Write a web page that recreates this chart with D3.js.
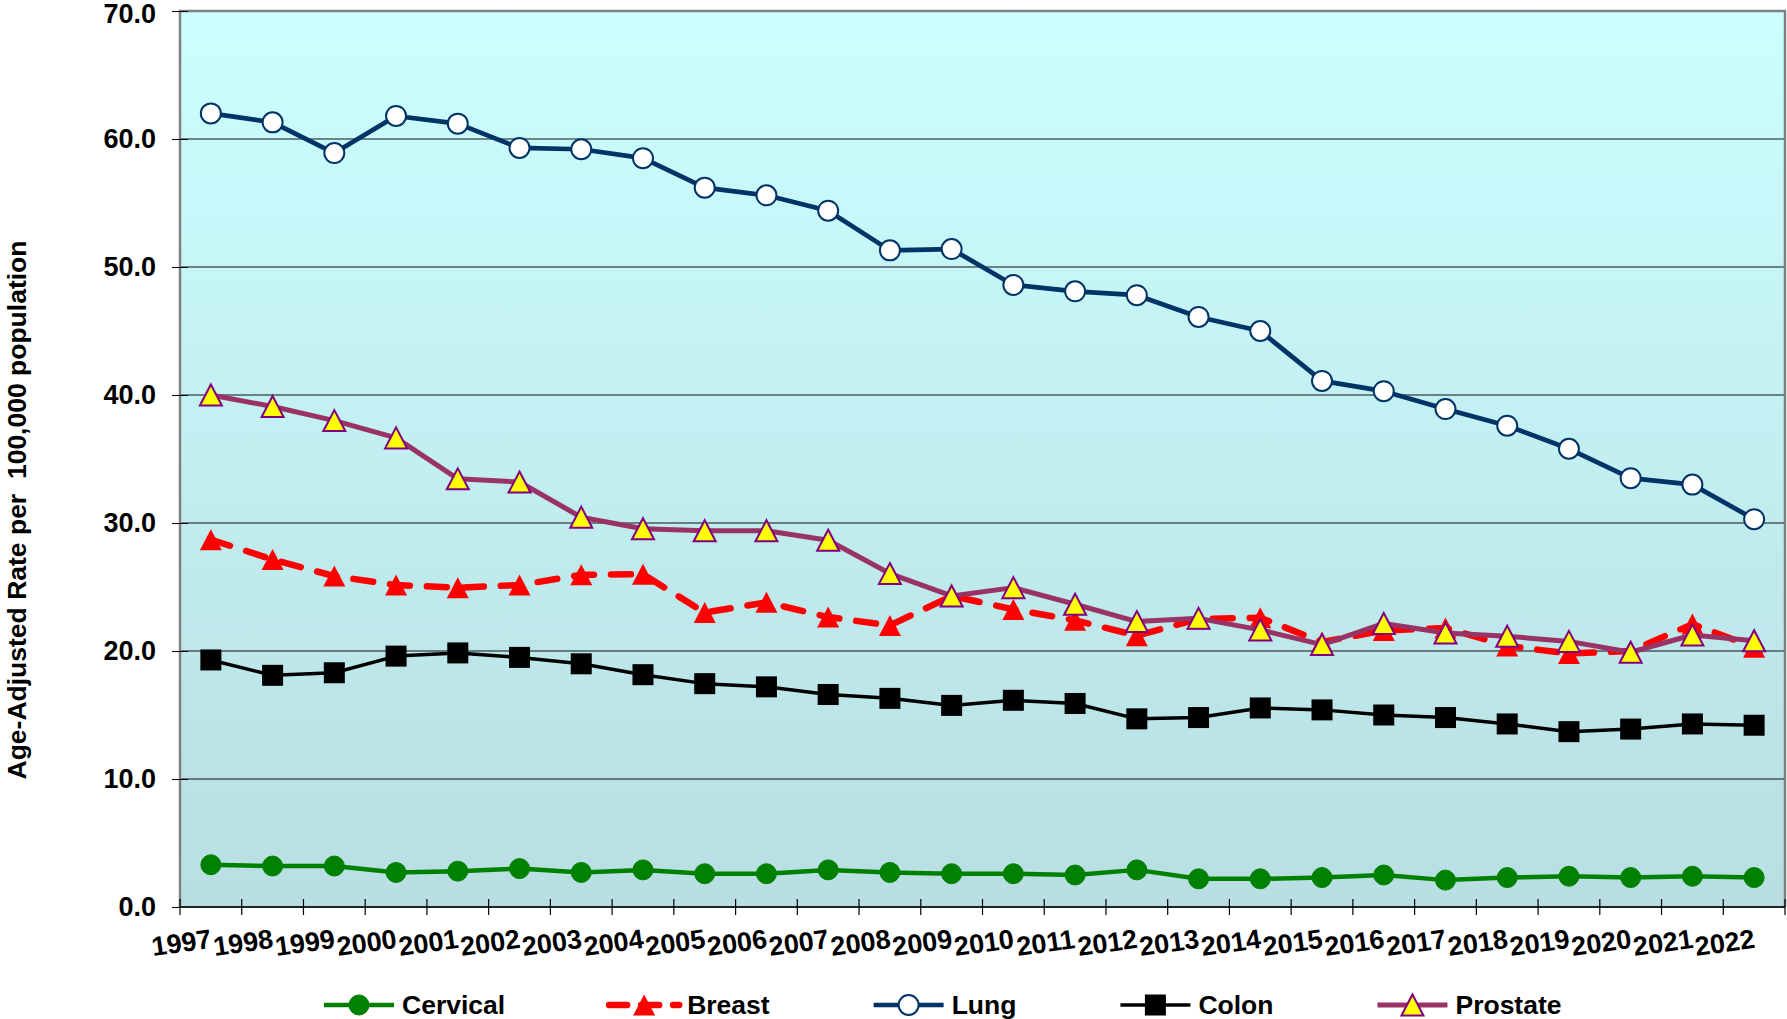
<!DOCTYPE html>
<html>
<head>
<meta charset="utf-8">
<script src="https://cdn.jsdelivr.net/npm/d3@7"></script>
<style>
  body { margin: 0; background: #fff; }
  svg { display: block; font-family: Arial, "Liberation Sans", sans-serif; }
</style>
</head>
<body>
<svg id="chart" width="1787" height="1019"></svg>
<script>
// values
const years = ["1997", "1998", "1999", "2000", "2001", "2002", "2003", "2004", "2005", "2006", "2007", "2008", "2009",
               "2010", "2011", "2012", "2013", "2014", "2015", "2016", "2017", "2018", "2019", "2020", "2021", "2022"];
const cervical = [3.3, 3.2, 3.2, 2.7, 2.8, 3.0, 2.7, 2.9, 2.6, 2.6, 2.9, 2.7, 2.6, 2.6, 2.5, 2.9, 2.2, 2.2, 2.3, 2.5, 2.1, 2.3, 2.4, 2.3, 2.4, 2.3];
const breast = [28.7, 27.15, 25.85, 25.15, 24.95, 25.15, 25.95, 26.0, 23.0, 23.8, 22.65, 22.0, 24.3, 23.25, 22.4, 21.2, 22.5, 22.6, 20.7, 21.6, 21.8, 20.4, 19.8, 20.0, 22.1, 20.3];
const lung = [62.0, 61.3, 58.9, 61.8, 61.2, 59.3, 59.2, 58.5, 56.2, 55.6, 54.4, 51.3, 51.4, 48.6, 48.1, 47.8, 46.1, 45.0, 41.1, 40.3, 38.9, 37.6, 35.8, 33.5, 33.0, 30.3];
const colon = [19.3, 18.1, 18.3, 19.6, 19.85, 19.5, 19.0, 18.15, 17.45, 17.2, 16.6, 16.3, 15.75, 16.15, 15.9, 14.7, 14.8, 15.55, 15.4, 15.0, 14.8, 14.3, 13.7, 13.9, 14.3, 14.2];
const prostate = [40.0, 39.1, 38.0, 36.65, 33.45, 33.2, 30.45, 29.55, 29.4, 29.4, 28.65, 26.05, 24.3, 24.95, 23.65, 22.3, 22.55, 21.65, 20.5, 22.15, 21.4, 21.15, 20.75, 19.9, 21.25, 20.8];
const seriesNames = ["Cervical", "Breast", "Lung", "Colon", "Prostate"];
const yTicks = [0, 10, 20, 30, 40, 50, 60, 70];
const yTitle = "Age-Adjusted Rate per  100,000 population";

const series = [cervical, breast, lung, colon, prostate].map((values, i) => ({ name: seriesNames[i], values }));

const styles = {
    Cervical: { line: "#008000", width: 4.5, dash: null, marker: "circle", fill: "#008000", stroke: "#008000", sw: 1 },
    Breast:   { line: "#ff0000", width: 6.5, dash: "20,17", marker: "triangle", fill: "#ff0000", stroke: "#ff0000", sw: 0 },
    Lung:     { line: "#003366", width: 4.7, dash: null, marker: "circle", fill: "#ffffff", stroke: "#003366", sw: 2 },
    Colon:    { line: "#000000", width: 3.5, dash: null, marker: "square", fill: "#000000", stroke: "#000000", sw: 0 },
    Prostate: { line: "#993366", width: 5, dash: null, marker: "triangle", fill: "#ffff00", stroke: "#800080", sw: 2 }
};

const svg = d3.select("#chart");
const plotLeft = 180, plotRight = 1785, plotTop = 11, plotBottom = 907;

const x = d3.scaleBand().domain(years).range([plotLeft, plotRight]).padding(0);
const y = d3.scaleLinear().domain([0, 70]).range([plotBottom, plotTop]);
const cx = d => x(d) + x.bandwidth() / 2;

// background gradient
const grad = svg.append("defs").append("linearGradient")
    .attr("id", "bg").attr("x1", 0).attr("y1", 0).attr("x2", 0).attr("y2", 1);
grad.append("stop").attr("offset", "0%").attr("stop-color", "#ccffff");
grad.append("stop").attr("offset", "100%").attr("stop-color", "#b8dee2");

svg.append("rect")
    .attr("x", plotLeft).attr("y", plotTop)
    .attr("width", plotRight - plotLeft).attr("height", plotBottom - plotTop)
    .attr("fill", "url(#bg)");

// gridlines
svg.append("g")
    .selectAll("line")
    .data(yTicks.filter(d => d > 0 && d < 70))
    .join("line")
    .attr("x1", plotLeft).attr("x2", plotRight)
    .attr("y1", d => y(d)).attr("y2", d => y(d))
    .attr("stroke", "#111").attr("stroke-width", 1);

// plot border
svg.append("path")
    .attr("d", `M${plotLeft},${plotBottom}V${plotTop}H${plotRight}V${plotBottom}`)
    .attr("fill", "none").attr("stroke", "#808080").attr("stroke-width", 2.5);

// y axis
const yAxis = svg.append("g")
    .attr("transform", `translate(${plotLeft},0)`)
    .call(d3.axisLeft(y).tickValues(yTicks).tickFormat(d3.format(".1f")).tickSize(8).tickPadding(16));
yAxis.select(".domain").remove();
yAxis.selectAll(".tick line").attr("x1", 8).attr("stroke", "#000");
yAxis.selectAll(".tick text")
    .attr("font-size", 27).attr("font-weight", "bold")
    .attr("font-family", "Arial, 'Liberation Sans', sans-serif").attr("fill", "#000");
yAxis.selectAll(".tick text").filter(d => d === 70).attr("dy", "0.42em");

// x axis
svg.append("line")
    .attr("x1", plotLeft).attr("x2", plotRight)
    .attr("y1", plotBottom).attr("y2", plotBottom)
    .attr("stroke", "#222").attr("stroke-width", 2);

const tickPos = years.map(d => x(d)).concat([plotRight]);
svg.append("g")
    .selectAll("line")
    .data(tickPos)
    .join("line")
    .attr("x1", d => d).attr("x2", d => d)
    .attr("y1", plotBottom - 8).attr("y2", plotBottom + 8)
    .attr("stroke", "#000").attr("stroke-width", 1.2);

svg.append("g")
    .selectAll("text")
    .data(years)
    .join("text")
    .attr("transform", d => `translate(${x(d) + 1.5},943) rotate(-8)`)
    .attr("text-anchor", "middle")
    .attr("dominant-baseline", "central")
    .attr("font-size", 27).attr("font-weight", "bold")
    .text(d => d);

// y axis title
svg.append("text")
    .attr("transform", `translate(17,510) rotate(-90)`)
    .attr("text-anchor", "middle")
    .attr("dominant-baseline", "central")
    .attr("font-size", 26.5).attr("font-weight", "bold")
    .style("white-space", "pre")
    .text(yTitle);

function drawMarker(sel, st) {
    if (st.marker === "circle") {
        sel.append("circle").attr("r", 10);
    } else if (st.marker === "square") {
        sel.append("rect").attr("x", -10.5).attr("y", -10.5).attr("width", 21).attr("height", 21);
    } else {
        sel.append("path").attr("d", "M0,-10.5L11,10.5L-11,10.5Z");
    }
    sel.selectAll("*")
        .attr("fill", st.fill)
        .attr("stroke", st.sw ? st.stroke : "none")
        .attr("stroke-width", st.sw);
}

const line = d3.line().x((d, i) => cx(years[i])).y(d => y(d));

series.forEach(s => {
    const st = styles[s.name];
    const g = svg.append("g");
    g.append("path")
        .attr("d", line(s.values))
        .attr("fill", "none")
        .attr("stroke", st.line)
        .attr("stroke-width", st.width)
        .attr("stroke-linejoin", "round")
        .attr("stroke-linecap", st.dash ? "round" : "butt")
        .attr("stroke-dasharray", st.dash);
    g.selectAll("g")
        .data(s.values)
        .join("g")
        .attr("transform", (d, i) => `translate(${cx(years[i])},${y(d)})`)
        .each(function() { drawMarker(d3.select(this), st); });
});

// legend
const legend = svg.append("g").attr("transform", "translate(0,1005)");
let lx = 324;
seriesNames.forEach(name => {
    const st = styles[name];
    const item = legend.append("g").attr("transform", `translate(${lx},0)`);
    item.append("line")
        .attr("x1", 0).attr("x2", 70)
        .attr("stroke", st.line).attr("stroke-width", st.width)
        .attr("stroke-linecap", st.dash ? "round" : "butt")
        .attr("stroke-dasharray", st.dash ? "18,14" : null);
    drawMarker(item.append("g").attr("transform", "translate(35,0)"), st);
    const t = item.append("text")
        .attr("x", 78).attr("dominant-baseline", "central")
        .attr("font-size", 26.5).attr("font-weight", "bold")
        .text(name);
    lx += 78 + t.node().getComputedTextLength() + 104;
});
</script>
</body>
</html>
